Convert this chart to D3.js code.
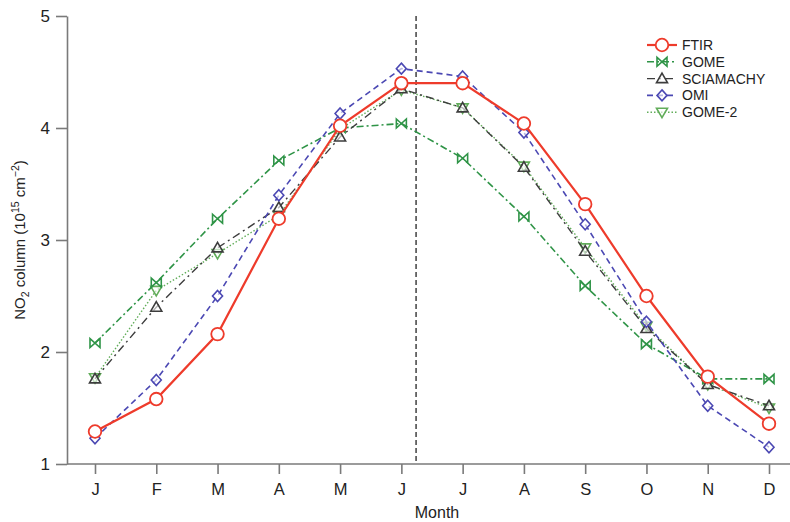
<!DOCTYPE html>
<html>
<head>
<meta charset="utf-8">
<script src="https://cdn.jsdelivr.net/npm/d3@7"></script>
<style>
  body { margin: 0; background: #fff; }
  svg text { font-family: "Liberation Sans", Arial, sans-serif; fill: #222; }
</style>
</head>
<body>
<div id="chart"></div>
<script>
// chart data
var months = ["J","F","M","A","M","J","J","A","S","O","N","D"];
var ftir      = [1.29,1.58,2.16,3.19,4.02,4.40,4.40,4.04,3.32,2.50,1.78,1.36];
var gome      = [2.08,2.62,3.19,3.71,4.00,4.04,3.73,3.21,2.59,2.07,1.76,1.76];
var sciamachy = [1.76,2.40,2.93,3.29,3.92,4.35,4.18,3.65,2.90,2.21,1.71,1.52];
var omi       = [1.23,1.75,2.50,3.40,4.13,4.53,4.46,3.96,3.14,2.27,1.52,1.15];
var gome2     = [1.77,2.55,2.88,3.22,3.99,4.34,4.18,3.66,2.93,2.23,1.71,1.50];
var yTicks = [1,2,3,4,5];
var solsticeIndex = 5.24; // dashed vertical line, a little after June

var width = 790, height = 522;

// series setup (drawn in this order, FTIR on top)
var series = [
  {name: "GOME-2",    values: gome2,     color: "#62ad5a", dash: "1.5,2",   marker: "tridown", lw: 1.4},
  {name: "GOME",      values: gome,      color: "#2f9447", dash: "7,3,2,3", marker: "bowtie",  lw: 1.6},
  {name: "SCIAMACHY", values: sciamachy, color: "#3d3d3d", dash: "8,4,2,4", marker: "triup",   lw: 1.4},
  {name: "OMI",       values: omi,       color: "#4b48b3", dash: "6,4",     marker: "diamond", lw: 1.6},
  {name: "FTIR",      values: ftir,      color: "#ee3b2b", dash: null,      marker: "circle",  lw: 2.2}
];
var legendOrder = ["FTIR","GOME","SCIAMACHY","OMI","GOME-2"];

var svg = d3.select("#chart")
  .append("svg")
    .attr("width", width)
    .attr("height", height);

var x = d3.scaleLinear()
  .domain([0, 11])
  .range([95, 769]);
var y = d3.scaleLinear()
  .domain([1, 5])
  .range([464, 16]);

var axisColor = "#7a7a7a";

// x axis
var xAxis = svg.append("g")
  .attr("transform", "translate(0,464)")
  .call(d3.axisBottom(x)
    .tickValues(d3.range(12))
    .tickFormat(function(i) { return months[i]; })
    .tickSize(10)
    .tickPadding(9));
xAxis.select(".domain").attr("d", "M67,0H790");
xAxis.selectAll("text").style("font-size", "16.5px");

// y axis
var yAxis = svg.append("g")
  .attr("transform", "translate(67,0)")
  .call(d3.axisLeft(y)
    .tickValues(yTicks)
    .tickFormat(d3.format("d"))
    .tickSize(11)
    .tickSizeOuter(0)
    .tickPadding(6));
yAxis.selectAll("text").style("font-size", "17px");

svg.selectAll(".domain, .tick line")
  .attr("stroke", axisColor)
  .attr("stroke-width", 1.6);

// axis titles
svg.append("text")
  .attr("x", 437)
  .attr("y", 518)
  .attr("text-anchor", "middle")
  .style("font-size", "16px")
  .text("Month");

var yTitle = svg.append("text")
  .attr("transform", "translate(25,240) rotate(-90)")
  .attr("text-anchor", "middle")
  .style("font-size", "15px");
yTitle.append("tspan").text("NO");
yTitle.append("tspan").attr("dy", 4).style("font-size", "10.5px").text("2");
yTitle.append("tspan").attr("dy", -4).text(" column (10");
yTitle.append("tspan").attr("dy", -6).style("font-size", "10.5px").text("15");
yTitle.append("tspan").attr("dy", 6).text(" cm");
yTitle.append("tspan").attr("dy", -6).style("font-size", "10.5px").text("\u22122");
yTitle.append("tspan").attr("dy", 6).text(")");

// dashed vertical line
svg.append("line")
  .attr("x1", x(solsticeIndex)).attr("x2", x(solsticeIndex))
  .attr("y1", y(5)).attr("y2", y(1))
  .attr("stroke", "#333")
  .attr("stroke-width", 1.4)
  .attr("stroke-dasharray", "5,3");

// marker shapes
function markerPath(type) {
  if (type == "bowtie") return "M-5,-4.5L5,4.5L5,-4.5L-5,4.5Z";
  if (type == "triup") return "M0,-5.5L5.5,4L-5.5,4Z";
  if (type == "tridown") return "M0,5.5L5.5,-4L-5.5,-4Z";
  if (type == "diamond") return "M0,-5.5L5,0L0,5.5L-5,0Z";
  return null;
}
function drawMarker(g, s, cx, cy) {
  if (s.marker == "circle") {
    g.append("circle")
      .attr("cx", cx).attr("cy", cy).attr("r", 6.3)
      .attr("fill", "#fff")
      .attr("stroke", s.color)
      .attr("stroke-width", 1.8);
  } else {
    g.append("path")
      .attr("d", markerPath(s.marker))
      .attr("transform", "translate(" + cx + "," + cy + ")")
      .attr("fill", s.marker == "bowtie" ? "none" : "#fff")
      .attr("fill-opacity", s.marker == "bowtie" ? 0 : 0.6)
      .attr("stroke", s.color)
      .attr("stroke-width", 1.6);
  }
}

var line = d3.line()
  .x(function(d, i) { return x(i); })
  .y(function(d) { return y(d); });

series.forEach(function(s) {
  var g = svg.append("g");
  g.append("path")
    .datum(s.values)
    .attr("d", line)
    .attr("fill", "none")
    .attr("stroke", s.color)
    .attr("stroke-width", s.lw)
    .attr("stroke-dasharray", s.dash);
  s.values.forEach(function(v, i) {
    drawMarker(g, s, x(i), y(v));
  });
});

// legend
var legend = svg.append("g");
legendOrder.forEach(function(name, k) {
  var s = series.filter(function(d) { return d.name == name; })[0];
  var ly = 45 + k * 16.8;
  var row = legend.append("g");
  row.append("line")
    .attr("x1", 647).attr("x2", 677)
    .attr("y1", ly).attr("y2", ly)
    .attr("stroke", s.color)
    .attr("stroke-width", s.lw)
    .attr("stroke-dasharray", s.dash);
  drawMarker(row, s, 662, ly);
  row.append("text")
    .attr("x", 682)
    .attr("y", ly + 5)
    .style("font-size", "14px")
    .text(name);
});
</script>
</body>
</html>
